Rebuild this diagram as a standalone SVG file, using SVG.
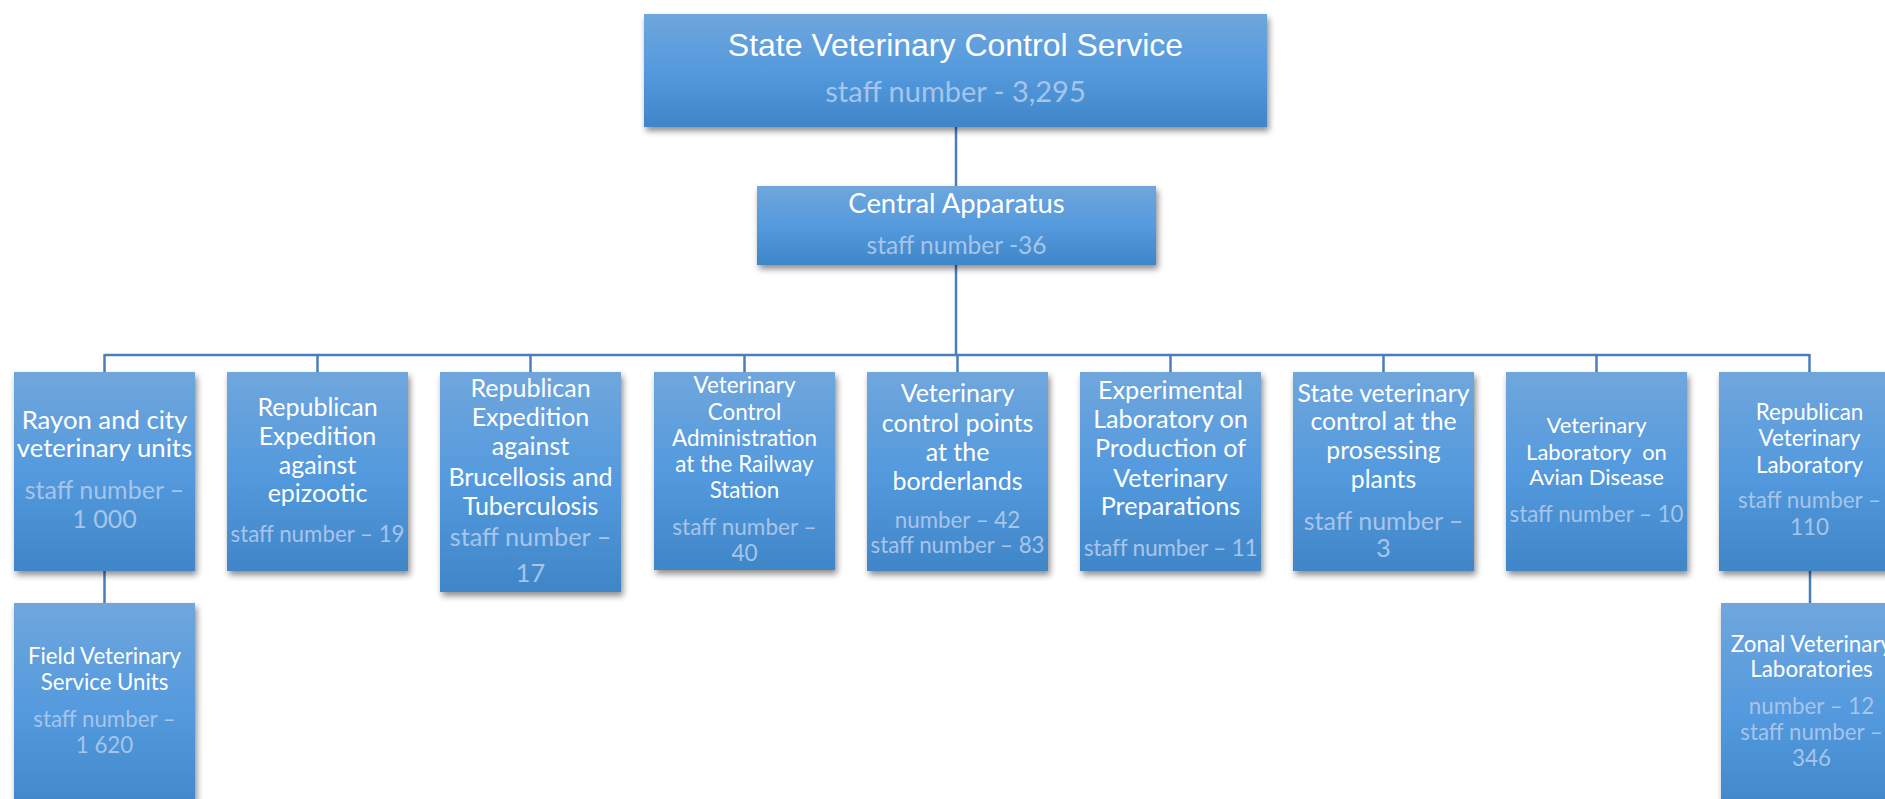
<svg xmlns="http://www.w3.org/2000/svg" width="1885" height="799" viewBox="0 0 1885 799">
<style>
.box{fill:url(#g);filter:url(#sh)}
.t{font-family:Lato,"Open Sans",sans-serif;fill:#ffffff;text-anchor:middle}
.s{font-family:Lato,"Open Sans",sans-serif;fill:#a7c4ea;text-anchor:middle}
.c{stroke:#4a7ebb;stroke-width:2.5;fill:none}
</style>
<defs>
<linearGradient id="g" x1="0" y1="0" x2="0" y2="1">
<stop offset="0" stop-color="#70a6dc"/>
<stop offset="0.5" stop-color="#549ade"/>
<stop offset="1" stop-color="#3f86c8"/>
</linearGradient>
<filter id="sh" x="-10%" y="-10%" width="125%" height="130%">
<feDropShadow dx="2" dy="4" stdDeviation="3" flood-color="#000" flood-opacity="0.45"/>
</filter>
</defs>
<rect width="1885" height="799" fill="#ffffff"/>
<g id="connectors">
<line class="c" x1="956" y1="127" x2="956" y2="186"/>
<line class="c" x1="956" y1="265" x2="956" y2="355"/>
<line class="c" x1="104.5" y1="355" x2="1809.5" y2="355"/>
<line class="c" x1="104.5" y1="354" x2="104.5" y2="372"/>
<line class="c" x1="317.5" y1="354" x2="317.5" y2="372"/>
<line class="c" x1="530.5" y1="354" x2="530.5" y2="372"/>
<line class="c" x1="744.5" y1="354" x2="744.5" y2="372"/>
<line class="c" x1="957.5" y1="354" x2="957.5" y2="372"/>
<line class="c" x1="1170.5" y1="354" x2="1170.5" y2="372"/>
<line class="c" x1="1383.5" y1="354" x2="1383.5" y2="372"/>
<line class="c" x1="1596.5" y1="354" x2="1596.5" y2="372"/>
<line class="c" x1="1809.5" y1="354" x2="1809.5" y2="372"/>
<line class="c" x1="104.5" y1="571" x2="104.5" y2="603"/>
<line class="c" x1="1810" y1="571" x2="1810" y2="603"/>
</g>
<g id="top">
<rect class="box" x="644" y="14" width="623" height="113"/>
<text class="t" x="955.5" y="56" style="font-family:'Liberation Sans',Arial,sans-serif" font-size="32">State Veterinary Control Service</text>
<text class="s" x="955.5" y="102" font-size="29">staff number - 3,295</text>
</g>
<g id="central">
<rect class="box" x="757" y="186" width="399" height="79"/>
<text class="t" x="956.5" y="213" font-size="27.4">Central Apparatus</text>
<text class="s" x="956.5" y="254" font-size="24.5">staff number -36</text>
</g>
<g id="rayon">
<rect class="box" x="14" y="372" width="181" height="199"/>
<text class="t" x="104.5" font-size="25.7"><tspan x="104.5" y="429">Rayon and city</tspan><tspan x="104.5" y="457">veterinary units</tspan></text>
<text class="s" x="104.5" font-size="25"><tspan x="104.5" y="499">staff number –</tspan><tspan x="104.5" y="528">1 000</tspan></text>
</g>
<g id="epizootic">
<rect class="box" x="227" y="372" width="181" height="199"/>
<text class="t" x="317.5" font-size="25"><tspan x="317.5" y="416">Republican</tspan><tspan x="317.5" y="445">Expedition</tspan><tspan x="317.5" y="474">against</tspan><tspan x="317.5" y="502">epizootic</tspan></text>
<text class="s" x="317.5" y="542" font-size="22.3">staff number – 19</text>
</g>
<g id="brucellosis">
<rect class="box" x="440" y="372" width="181" height="220"/>
<text class="t" x="530.5" font-size="25"><tspan x="530.5" y="397">Republican</tspan><tspan x="530.5" y="426">Expedition</tspan><tspan x="530.5" y="455">against</tspan><tspan x="530.5" y="486">Brucellosis and</tspan><tspan x="530.5" y="515">Tuberculosis</tspan></text>
<text class="s" x="530.5" font-size="25.3"><tspan x="530.5" y="546">staff number –</tspan><tspan x="530.5" y="582">17</tspan></text>
</g>
<g id="railway">
<rect class="box" x="654" y="372" width="181" height="198"/>
<text class="t" x="744.5" font-size="22.4"><tspan x="744.5" y="393">Veterinary</tspan><tspan x="744.5" y="420">Control</tspan><tspan x="744.5" y="446">Administration</tspan><tspan x="744.5" y="472">at the Railway</tspan><tspan x="744.5" y="498">Station</tspan></text>
<text class="s" x="744.5" font-size="22.6"><tspan x="744.5" y="535">staff number –</tspan><tspan x="744.5" y="561">40</tspan></text>
</g>
<g id="borderlands">
<rect class="box" x="867" y="372" width="181" height="199"/>
<text class="t" x="957.5" font-size="25"><tspan x="957.5" y="402">Veterinary</tspan><tspan x="957.5" y="432">control points</tspan><tspan x="957.5" y="461">at the</tspan><tspan x="957.5" y="490">borderlands</tspan></text>
<text class="s" x="957.5" font-size="22.3"><tspan x="957.5" y="528">number – 42</tspan><tspan x="957.5" y="553">staff number – 83</tspan></text>
</g>
<g id="experimental">
<rect class="box" x="1080" y="372" width="181" height="199"/>
<text class="t" x="1170.5" font-size="25.2"><tspan x="1170.5" y="399">Experimental</tspan><tspan x="1170.5" y="428">Laboratory on</tspan><tspan x="1170.5" y="457">Production of</tspan><tspan x="1170.5" y="487">Veterinary</tspan><tspan x="1170.5" y="515">Preparations</tspan></text>
<text class="s" x="1170.5" y="556" font-size="22.8" letter-spacing="-0.3">staff number – 11</text>
</g>
<g id="processing">
<rect class="box" x="1293" y="372" width="181" height="199"/>
<text class="t" x="1383.5" font-size="24.8"><tspan x="1383.5" y="402">State veterinary</tspan><tspan x="1383.5" y="430">control at the</tspan><tspan x="1383.5" y="459">prosessing</tspan><tspan x="1383.5" y="488">plants</tspan></text>
<text class="s" x="1383.5" font-size="25"><tspan x="1383.5" y="530">staff number –</tspan><tspan x="1383.5" y="557">3</tspan></text>
</g>
<g id="avian">
<rect class="box" x="1506" y="372" width="181" height="199"/>
<text class="t" x="1596.5" font-size="22"><tspan x="1596.5" y="433">Veterinary</tspan><tspan x="1596.5" y="460" xml:space="preserve">Laboratory  on</tspan><tspan x="1596.5" y="485">Avian Disease</tspan></text>
<text class="s" x="1596.5" y="522" font-size="22.3">staff number – 10</text>
</g>
<g id="republican-lab">
<rect class="box" x="1719" y="372" width="181" height="199"/>
<text class="t" x="1809.5" font-size="22.4"><tspan x="1809.5" y="420">Republican</tspan><tspan x="1809.5" y="446">Veterinary</tspan><tspan x="1809.5" y="473">Laboratory</tspan></text>
<text class="s" x="1809.5" font-size="22.4"><tspan x="1809.5" y="508">staff number –</tspan><tspan x="1809.5" y="535">110</tspan></text>
</g>
<g id="field">
<rect class="box" x="14" y="603" width="181" height="215"/>
<text class="t" x="104.5" font-size="22.2"><tspan x="104.5" y="664">Field Veterinary</tspan><tspan x="104.5" y="690">Service Units</tspan></text>
<text class="s" x="104.5" font-size="22.3"><tspan x="104.5" y="727">staff number –</tspan><tspan x="104.5" y="753">1 620</tspan></text>
</g>
<g id="zonal">
<rect class="box" x="1721" y="603" width="181" height="215"/>
<text class="t" x="1811.5" font-size="22.4"><tspan x="1811.5" y="652">Zonal Veterinary</tspan><tspan x="1811.5" y="677">Laboratories</tspan></text>
<text class="s" x="1811.5" font-size="22.3"><tspan x="1811.5" y="714">number – 12</tspan><tspan x="1811.5" y="740">staff number –</tspan><tspan x="1811.5" y="766">346</tspan></text>
</g>
</svg>
